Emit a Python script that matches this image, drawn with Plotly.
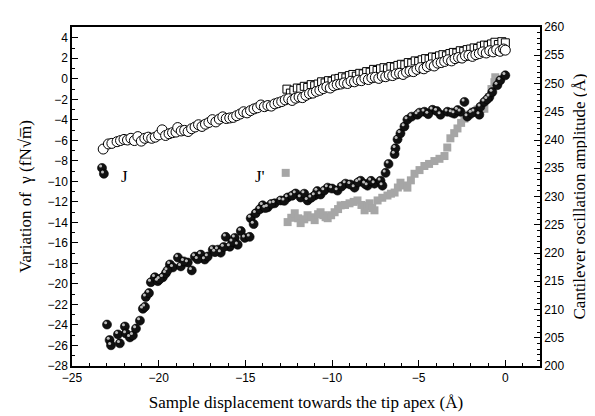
import plotly.graph_objects as go

# ---- open circles: cantilever amplitude (right axis, Å) ----
circ_x = [-23.2, -22.9, -22.7, -22.4, -22.2, -22.0, -21.8, -21.6, -21.4, -21.2, -21.0, -20.8,
          -20.6, -20.4, -20.2, -20.0, -19.8, -19.6, -19.4, -19.2, -19.0, -18.9, -18.7, -18.5,
          -18.3, -18.1, -17.9, -17.7, -17.5, -17.3, -17.1, -16.9, -16.7, -16.5, -16.3, -16.1,
          -15.9, -15.7, -15.5, -15.3, -15.1, -14.9, -14.7, -14.5, -14.3, -14.1, -13.9, -13.7,
          -13.5, -13.3, -13.1, -12.9, -12.7, -12.5, -12.3, -12.1, -11.9, -11.7, -11.5, -11.3,
          -11.1, -10.9, -10.7, -10.5, -10.3, -10.1, -9.9, -9.7, -9.5, -9.3, -9.1, -8.9, -8.7,
          -8.5, -8.3, -8.1, -7.9, -7.7, -7.5, -7.3, -7.1, -6.9, -6.7, -6.5, -6.3, -6.1, -5.9,
          -5.7, -5.5, -5.3, -5.1, -4.9, -4.7, -4.5, -4.3, -4.1, -3.9, -3.7, -3.5, -3.3, -3.1,
          -2.9, -2.7, -2.5, -2.3, -2.1, -1.9, -1.7, -1.5, -1.3, -1.1, -0.9, -0.7, -0.5, -0.3,
          -0.1, 0.0]
circ_y = [238.4, 239.3, 239.4, 239.7, 239.9, 240.1, 240.0, 240.3, 239.9, 240.6, 239.8, 240.3,
          240.5, 240.3, 240.5, 240.9, 241.8, 240.8, 241.1, 241.3, 241.4, 242.2, 241.6, 241.7,
          241.5, 242.0, 242.3, 242.7, 242.4, 242.8, 243.1, 243.6, 243.2, 243.7, 244.1, 243.8,
          243.9, 244.0, 244.3, 244.6, 245.0, 244.8, 245.2, 245.5, 245.7, 246.2, 245.9, 246.1,
          246.0, 246.4, 246.6, 246.8, 247.1, 247.3, 247.0, 247.4, 247.6, 247.5, 247.9, 248.2,
          248.3, 248.6, 248.8, 249.1, 249.4, 249.2, 249.6, 249.8, 249.9, 250.1, 250.0, 250.4, 250.3,
          250.6, 250.5, 250.9, 250.7, 251.0, 251.1, 250.9, 251.3, 251.2, 251.5, 251.4, 251.7, 251.8, 251.6,
          252.0, 252.2, 252.1, 252.5, 252.8, 252.6, 253.0, 253.3, 253.1, 253.6, 253.7, 253.9, 254.2, 254.0,
          254.4, 254.6, 254.5, 254.9, 255.0, 254.8, 255.1, 255.3, 255.6, 255.4, 255.8, 255.6, 256.0, 255.7,
          256.1, 255.9]

# ---- open squares: cantilever amplitude (right axis, Å) ----
sq_x = [-12.6, -12.4, -12.2, -12.0, -11.8, -11.6, -11.4, -11.2, -11.0, -10.8, -10.6, -10.4,
        -10.2, -10.0, -9.8, -9.6, -9.4, -9.2, -9.0, -8.8, -8.6, -8.4, -8.2, -8.0, -7.8, -7.6,
        -7.4, -7.2, -7.0, -6.8, -6.6, -6.4, -6.2, -6.0, -5.8, -5.6, -5.4, -5.2, -5.0, -4.8,
        -4.6, -4.4, -4.2, -4.0, -3.8, -3.6, -3.4, -3.2, -3.0, -2.8, -2.6, -2.4, -2.2, -2.0,
        -1.8, -1.6, -1.4, -1.2, -1.0, -0.8, -0.6, -0.4, -0.2, 0.0]
sq_y = [249.0, 248.3, 248.8, 249.2, 249.1, 249.5, 249.3, 249.8, 249.6, 249.9, 250.3, 250.1,
        250.5, 250.4, 250.8, 250.9, 251.2, 251.0, 251.4, 251.6, 251.3, 251.8, 251.7, 252.1, 252.0, 252.5,
        252.3, 252.6, 252.8, 252.6, 253.0, 252.9, 253.2, 253.4, 253.3, 253.7, 253.6, 254.0, 253.9, 254.2,
        254.4, 254.3, 254.7, 254.6, 254.9, 255.1, 254.9, 255.3, 255.5, 255.4, 255.8, 255.7, 256.0, 256.1,
        256.3, 256.2, 256.6, 256.8, 256.7, 257.0, 257.3, 256.9, 257.4, 257.2]

# ---- filled spheres: variation of gamma (left axis) ----
ball_x = [-23.27, -23.16, -22.98, -22.83, -22.75, -22.35, -22.24, -21.95, -21.89, -21.66, -21.49,
          -21.31, -21.08, -20.91, -20.79, -20.74, -20.56, -20.45, -20.22, -20.05, -19.76, -19.59,
          -19.35, -19.18, -18.89, -18.72, -18.32, -18.09, -17.91, -17.57, -17.34, -17.17, -16.88,
          -16.59, -16.42, -16.13, -15.90, -15.61, -15.44, -15.26, -15.03, -14.75, -14.69, -14.52,
          -14.40, -14.17, -14.00, -13.71, -13.31, -12.96, -12.56, -12.10, -11.81, -11.41, -11.00,
          -10.66, -10.25, -9.68, -9.22, -8.70, -8.35, -7.95, -7.55, -7.20, -7.09, -6.91, -6.74,
          -6.39, -6.34, -6.22, -6.05, -5.82, -5.65, -5.41, -5.07, -4.67, -4.20, -3.74, -3.34,
          -2.94, -2.59, -2.36, -2.19, -1.79, -1.50, -1.44, -1.21, -0.92, -0.75, -0.46, -0.29, 0.0,
          -19.95, -19.50, -18.55, -17.75, -16.75, -16.25, -15.75, -13.85, -13.50, -12.75, -12.30,
          -11.60, -11.20, -10.85, -10.45, -10.00, -9.45, -8.95, -8.50, -8.10, -7.75, -4.95, -4.45,
          -3.95, -3.10, -2.75, -1.95, -1.05]
ball_y = [-8.69, -9.26, -23.96, -25.47, -25.98, -24.92, -25.79, -24.15, -24.83, -25.21, -25.02,
          -24.35, -23.58, -22.42, -22.23, -21.27, -20.89, -19.83, -19.35, -19.73, -19.35, -18.97,
          -18.10, -18.39, -17.43, -18.29, -17.91, -18.68, -17.33, -17.14, -17.62, -17.33, -16.66,
          -16.66, -16.95, -15.41, -16.37, -15.51, -16.18, -14.84, -15.51, -15.41, -13.59, -14.16,
          -13.11, -12.72, -12.34, -12.53, -12.14, -11.86, -11.57, -11.18, -11.57, -11.86, -11.38,
          -11.28, -10.61, -10.90, -10.22, -10.61, -9.94, -10.42, -10.22, -9.94, -10.42, -9.17, -8.30,
          -7.34, -6.77, -5.90, -5.32, -4.65, -3.98, -3.69, -3.50, -3.21, -3.02, -3.50, -3.21,
          -3.40, -3.21, -2.25, -3.69, -3.21, -3.50, -2.73, -2.25, -1.77, -1.29, -0.62, -0.14, 0.34,
          -19.55, -18.70, -17.80, -17.60, -16.90, -16.40, -15.90, -12.60, -12.20, -11.90, -11.40,
          -11.20, -11.60, -10.95, -10.90, -10.70, -10.50, -10.30, -10.10, -10.25, -9.95, -3.30, -3.45,
          -3.15, -3.30, -3.05, -3.35, -2.00]

# ---- grey squares: variation of gamma (left axis) ----
grey_x = [-12.67, -12.56, -12.35, -12.15, -11.95, -11.81, -11.60, -11.41, -11.20, -11.00, -10.80,
          -10.66, -10.50, -10.37, -10.25, -10.05, -9.85, -9.65, -9.50, -9.25, -8.99, -8.75, -8.53,
          -8.30, -8.12, -7.95, -7.83, -7.68, -7.55, -7.37, -7.10, -6.80, -6.60, -6.39, -6.20,
          -6.05, -5.85, -5.65, -5.45, -5.24, -4.95, -4.67, -4.40, -4.09, -3.80, -3.51, -3.35,
          -3.17, -2.95, -2.76, -2.55, -2.36, -2.10, -1.85, -1.60, -1.40, -1.21, -0.95, -0.80,
          -0.63, -0.58]
grey_y = [-9.17, -13.97, -13.55, -13.11, -13.60, -14.07, -13.70, -13.30, -13.50, -13.78, -13.20,
          -13.01, -13.30, -13.49, -13.59, -13.30, -13.01, -12.70, -12.34, -12.30, -12.14, -12.00, -11.86,
          -12.30, -12.82, -12.40, -12.14, -12.60, -12.82, -11.86, -11.60, -11.38, -11.20, -11.09, -10.60,
          -10.13, -10.40, -10.61, -9.90, -9.26, -8.90, -8.50, -8.30, -8.02, -7.80, -7.53, -6.70,
          -5.80, -5.30, -4.84, -4.30, -3.88, -3.50, -3.20, -3.00, -2.95, -2.92, -1.80, -1.00,
          -0.33, 0.15]

# labels
x_title = "Sample displacement towards the tip apex (Å)"
y_title = "Variation of  γ (fN√m\u0305)"
y2_title = "Cantilever oscillation amplitude (Å)"

fig = go.Figure()

fig.add_trace(go.Scatter(x=grey_x, y=grey_y, mode="markers",
                         marker=dict(symbol="square", size=8, color="#a6a6a6",
                                     line=dict(width=0)),
                         showlegend=False))
fig.add_trace(go.Scatter(x=ball_x, y=ball_y, mode="markers",
                         marker=dict(symbol="circle", size=9, color="#111111",
                                     line=dict(width=0.6, color="#000000")),
                         showlegend=False))
# small glints on the spheres (offset up-left from each sphere)
fig.add_trace(go.Scatter(x=[v - 0.08 for v in ball_x], y=[v + 0.18 for v in ball_y],
                         mode="markers",
                         marker=dict(symbol="circle", size=3, color="#bdbdbd",
                                     line=dict(width=0)),
                         showlegend=False))
fig.add_trace(go.Scatter(x=sq_x, y=sq_y, mode="markers", yaxis="y2",
                         marker=dict(symbol="square", size=8, color="white",
                                     line=dict(width=1, color="black")),
                         showlegend=False))
fig.add_trace(go.Scatter(x=circ_x, y=circ_y, mode="markers", yaxis="y2",
                         marker=dict(symbol="circle", size=10, color="white",
                                     line=dict(width=1, color="black")),
                         showlegend=False))

fig.add_annotation(x=-21.95, y=-9.5, text="J", showarrow=False,
                   font=dict(family="Liberation Serif", size=17, color="black"))
fig.add_annotation(x=-14.17, y=-9.5, text="J'", showarrow=False,
                   font=dict(family="Liberation Serif", size=17, color="black"))

tickfont = dict(family="Liberation Sans", size=12, color="black")
titlefont = dict(family="Liberation Serif", size=17, color="black")

fig.update_layout(
    width=595, height=416,
    margin=dict(l=64, r=63, t=14, b=58),
    paper_bgcolor="white", plot_bgcolor="white",
    xaxis=dict(range=[-25, 2], tickmode="linear", tick0=-25, dtick=5,
               ticks="inside", ticklen=6, tickwidth=1, tickcolor="black",
               minor=dict(ticks="inside", ticklen=3, dtick=1, tick0=-25, tickcolor="black"),
               showline=True, linecolor="black", linewidth=1.5, mirror=True,
               showgrid=False, zeroline=False, tickfont=tickfont,
               title=dict(text=x_title, font=titlefont, standoff=12)),
    yaxis=dict(range=[-28, 5.05], tickmode="linear", tick0=0, dtick=2,
               ticks="inside", ticklen=6, tickwidth=1, tickcolor="black",
               minor=dict(ticks="inside", ticklen=3, dtick=1, tick0=0, tickcolor="black"),
               showline=True, linecolor="black", linewidth=1.5,
               showgrid=False, zeroline=False, tickfont=tickfont,
               title=dict(text=y_title, font=titlefont, standoff=12)),
    yaxis2=dict(range=[200, 260], overlaying="y", side="right", tickmode="linear",
                tick0=200, dtick=5,
                ticks="inside", ticklen=6, tickwidth=1, tickcolor="black",
                minor=dict(ticks="inside", ticklen=3, dtick=1, tick0=200, tickcolor="black"),
                showline=True, linecolor="black", linewidth=1.5,
                showgrid=False, zeroline=False, tickfont=tickfont,
                title=dict(text=y2_title, font=titlefont, standoff=10)),
)

fig.write_html("out.html")
